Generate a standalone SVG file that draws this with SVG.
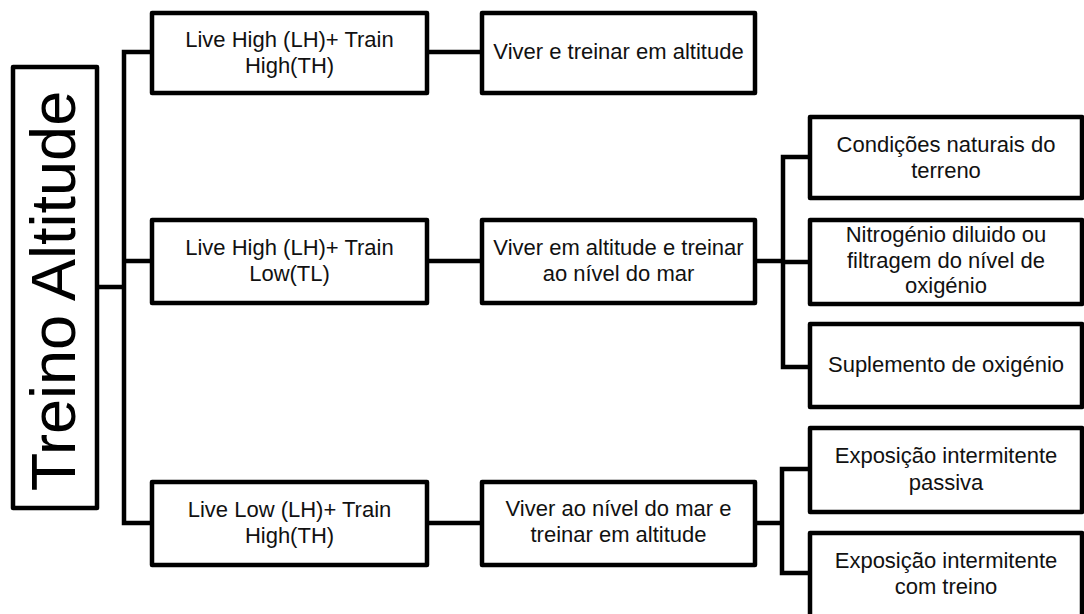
<svg xmlns="http://www.w3.org/2000/svg" width="1084" height="614" viewBox="0 0 1084 614">
<style>
.box{fill:#fff;stroke:#000;stroke-width:4.5;stroke-linejoin:round}
.ln{fill:none;stroke:#000;stroke-width:4.5;stroke-linejoin:round;stroke-linecap:square}
.t{font-family:"Liberation Sans",Arial,sans-serif;font-size:22px;fill:#111;text-anchor:middle}
.root{font-family:"Liberation Sans",Arial,sans-serif;font-size:63px;fill:#000;text-anchor:middle}
</style>
<rect width="1084" height="614" fill="#fff"/>
<g id="connectors">
<path class="ln" d="M97 287H124M124 52V523M124 52H152M124 261H152M124 523H152"/>
<path class="ln" d="M427 52H482M427 261H482M427 523H482"/>
<path class="ln" d="M755 261H783M783 157V367M783 157H810M783 262H810M783 367H810"/>
<path class="ln" d="M755 523H782M782 469V573M782 469H810M782 573H810"/>
</g>
<g id="root">
<rect class="box" x="13" y="67" width="84" height="441"/>
<text class="root" transform="translate(75,291) rotate(-90)">Treino Altitude</text>
</g>
<g id="lhth">
<rect class="box" x="152" y="13" width="275" height="80"/>
<text class="t" x="289.5" y="47">Live High (LH)+ Train</text>
<text class="t" x="289.5" y="73">High(TH)</text>
</g>
<g id="lhtl">
<rect class="box" x="152" y="220" width="275" height="83"/>
<text class="t" x="289.5" y="255">Live High (LH)+ Train</text>
<text class="t" x="289.5" y="281">Low(TL)</text>
</g>
<g id="llth">
<rect class="box" x="152" y="482" width="275" height="83"/>
<text class="t" x="289.5" y="517">Live Low (LH)+ Train</text>
<text class="t" x="289.5" y="543">High(TH)</text>
</g>
<g id="viver1">
<rect class="box" x="482" y="13" width="273" height="80"/>
<text class="t" x="618.5" y="59">Viver e treinar em altitude</text>
</g>
<g id="viver2">
<rect class="box" x="482" y="220" width="273" height="83"/>
<text class="t" x="618.5" y="255">Viver em altitude e treinar</text>
<text class="t" x="618.5" y="281">ao nível do mar</text>
</g>
<g id="viver3">
<rect class="box" x="482" y="482" width="273" height="83"/>
<text class="t" x="618.5" y="516">Viver ao nível do mar e</text>
<text class="t" x="618.5" y="542">treinar em altitude</text>
</g>
<g id="condicoes">
<rect class="box" x="810" y="117" width="272" height="81"/>
<text class="t" x="946" y="152">Condições naturais do</text>
<text class="t" x="946" y="178">terreno</text>
</g>
<g id="nitrogenio">
<rect class="box" x="810" y="220" width="272" height="84"/>
<text class="t" x="946" y="242">Nitrogénio diluido ou</text>
<text class="t" x="946" y="268">filtragem do nível de</text>
<text class="t" x="946" y="293">oxigénio</text>
</g>
<g id="suplemento">
<rect class="box" x="810" y="324" width="272" height="83"/>
<text class="t" x="946" y="372">Suplemento de oxigénio</text>
</g>
<g id="passiva">
<rect class="box" x="810" y="428" width="272" height="84"/>
<text class="t" x="946" y="463">Exposição intermitente</text>
<text class="t" x="946" y="490">passiva</text>
</g>
<g id="comtreino">
<rect class="box" x="810" y="533" width="272" height="84"/>
<text class="t" x="946" y="568">Exposição intermitente</text>
<text class="t" x="946" y="594">com treino</text>
</g>
</svg>
